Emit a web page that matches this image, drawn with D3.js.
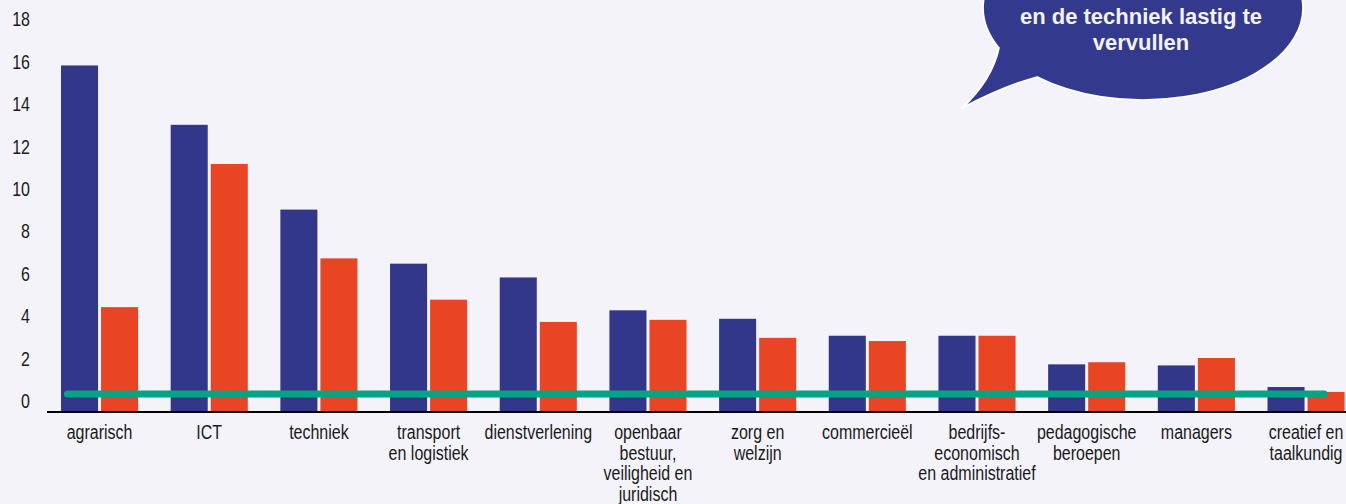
<!DOCTYPE html>
<html>
<head>
<meta charset="utf-8">
<script src="https://cdn.jsdelivr.net/npm/d3@7"></script>
<style>
  html, body { margin: 0; padding: 0; background: #f4f3f9; }
  svg { display: block; }
</style>
</head>
<body>
<svg id="chart" width="1346" height="504"></svg>
<script>
const categories = [
  ["agrarisch"],
  ["ICT"],
  ["techniek"],
  ["transport", "en logistiek"],
  ["dienstverlening"],
  ["openbaar", "bestuur,", "veiligheid en", "juridisch"],
  ["zorg en", "welzijn"],
  ["commercieël"],
  ["bedrijfs-", "economisch", "en administratief"],
  ["pedagogische", "beroepen"],
  ["managers"],
  ["creatief en", "taalkundig"]
];
const seriesNames = ["blauw", "rood"];
const seriesBlue = [16.3, 13.5, 9.5, 6.95, 6.3, 4.75, 4.35, 3.55, 3.55, 2.2, 2.15, 1.13];
const seriesRed  = [4.9, 11.65, 7.2, 5.25, 4.2, 4.3, 3.45, 3.3, 3.55, 2.3, 2.5, 0.9];
const yTicks = [0, 2, 4, 6, 8, 10, 12, 14, 16, 18];
const referenceValue = 0.8;
const bubbleLines = ["en de techniek lastig te", "vervullen"];

const colors = { blauw: "#32378a", rood: "#e94524" };
const svg = d3.select("#chart");
svg.append("rect").attr("width", 1346).attr("height", 504).attr("fill", "#f4f3f9");

const keys = categories.map((c, i) => i);
const x0 = d3.scaleBand().domain(keys).range([61, 1344.6]).paddingInner(0.297).paddingOuter(0);
const x1 = d3.scaleBand().domain(seriesNames).range([0, x0.bandwidth()]).paddingInner(0.075);
const y = d3.scaleLinear().domain([0, 18]).range([411, 411 - 18 * 21.2]);

const data = keys.map(i => ({ i, blauw: seriesBlue[i], rood: seriesRed[i] }));

// y tick labels
const yAxisG = svg.append("g");
yAxisG.selectAll("text").data(yTicks).join("text")
  .attr("transform", d => `translate(30,${y(d) - 3}) scale(1,1.3)`)
  .attr("text-anchor", "end")
  .attr("font-family", "Liberation Sans, Arial, sans-serif")
  .attr("font-size", 16)
  .attr("fill", "#1a1a1a")
  .text(d => d);

// bars
const groups = svg.append("g").selectAll("g").data(data).join("g")
  .attr("transform", d => `translate(${x0(d.i)},0)`);
groups.selectAll("rect").data(d => seriesNames.map(k => ({ k, v: d[k] }))).join("rect")
  .attr("x", d => x1(d.k))
  .attr("width", x1.bandwidth())
  .attr("y", d => y(d.v))
  .attr("height", d => y(0) - y(d.v))
  .attr("fill", d => colors[d.k]);

// x axis line
svg.append("line")
  .attr("x1", 47).attr("x2", 1346)
  .attr("y1", y(0) + 1).attr("y2", y(0) + 1)
  .attr("stroke", "#000").attr("stroke-width", 2);

// reference line
const refStart = x0(keys[0]) + 6.5;
const refEnd = x0(keys[keys.length - 1]) + x0.bandwidth() - 20.5;
svg.append("line")
  .attr("x1", refStart).attr("x2", refEnd)
  .attr("y1", y(referenceValue)).attr("y2", y(referenceValue))
  .attr("stroke", "#00a584").attr("stroke-width", 7).attr("stroke-linecap", "round");

// category labels
const labG = svg.append("g").selectAll("g").data(keys).join("g");
labG.each(function(i) {
  const cx = x0(i) + x0.bandwidth() / 2;
  d3.select(this).selectAll("text").data(categories[i]).join("text")
    .attr("transform", (d, j) => `translate(${cx},${439 + j * 20.6}) scale(1,1.3)`)
    .attr("text-anchor", "middle")
    .attr("font-family", "Liberation Sans, Arial, sans-serif")
    .attr("font-size", 16)
    .attr("fill", "#1a1a1a")
    .text(d => d);
});

// speech bubble
const cx = 1143, cy = 8, rx = 160, ry = 92;
const ex = yy => cx - rx * Math.sqrt(1 - Math.pow((yy - cy) / ry, 2));
const pA = [ex(48), 48], pB = [ex(77), 77], tip = [962, 108];
const bubblePath = `M${pA[0]},${pA[1]} A${rx},${ry} 0 1 1 ${pB[0]},${pB[1]} Q1004,86 ${tip[0]},${tip[1]} Q992,80 ${pA[0]},${pA[1]} Z`;
svg.append("path").attr("d", bubblePath)
  .attr("fill", "#333a8e").attr("stroke", "#ffffff").attr("stroke-width", 1.8);
svg.append("g").selectAll("text").data(bubbleLines).join("text")
  .attr("x", 1141).attr("y", (d, j) => 23.5 + j * 26.7)
  .attr("text-anchor", "middle")
  .attr("font-family", "Liberation Sans, Arial, sans-serif")
  .attr("font-weight", "bold")
  .attr("font-size", 22)
  .attr("fill", "#f4f3f9")
  .text(d => d);
</script>
</body>
</html>
